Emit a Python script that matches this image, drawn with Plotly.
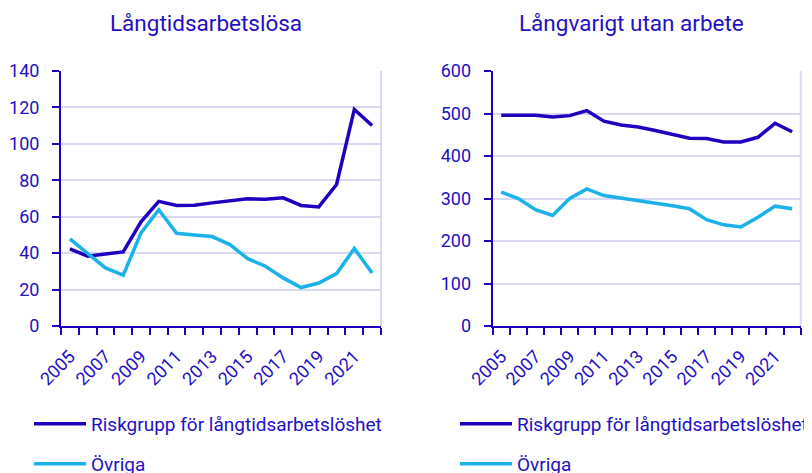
import plotly.graph_objects as go

years = list(range(2005, 2023))
tick_years = [2005, 2007, 2009, 2011, 2013, 2015, 2017, 2019, 2021]
tick_labels = [str(y) for y in tick_years]

left_title = "Långtidsarbetslösa"
right_title = "Långvarigt utan arbete"
series_names = ["Riskgrupp för långtidsarbetslöshet", "Övriga"]

left_risk = [42.3, 38.3, 39.5, 40.7, 57.2, 68.4, 66.2, 66.3, 67.6, 68.5, 69.8, 69.6, 70.4, 66.2, 65.4, 77.7, 118.9, 110.1]
left_other = [47.8, 40.1, 31.9, 27.9, 51.1, 63.8, 50.9, 50.0, 49.1, 44.7, 37.0, 32.8, 26.4, 21.1, 23.6, 28.8, 42.5, 29.1]

right_risk = [496, 495.5, 496, 492, 495, 507, 482, 473, 468, 460, 451, 442, 441, 433, 433, 444, 477, 457]
right_other = [315, 300, 273.5, 260, 300, 322.5, 307, 301.5, 294, 289, 283, 276, 250, 238, 233, 256, 282, 276]

DARK = "#1E00BE"
LIGHT = "#1AB2E8"
TEXT = "#2310C4"
GRID = "#D8D8F2"
FONT = "Roboto"

fig = go.Figure()

W, H = 812, 473
OFF = 8  # page body margin offset
def px(x):
    return (x - OFF) / W
def py(y):
    return 1 - (y - OFF) / H

fig.add_trace(go.Scatter(x=years, y=left_risk, mode="lines", name=series_names[0],
                         line=dict(color=DARK, width=3.5), xaxis="x", yaxis="y", legend="legend"))
fig.add_trace(go.Scatter(x=years, y=left_other, mode="lines", name=series_names[1],
                         line=dict(color=LIGHT, width=3.5), xaxis="x", yaxis="y", legend="legend2"))
fig.add_trace(go.Scatter(x=years, y=right_risk, mode="lines", name=series_names[0],
                         line=dict(color=DARK, width=3.5), xaxis="x2", yaxis="y2", legend="legend3"))
fig.add_trace(go.Scatter(x=years, y=right_other, mode="lines", name=series_names[1],
                         line=dict(color=LIGHT, width=3.5), xaxis="x2", yaxis="y2", legend="legend4"))

ydom = [py(326), py(71)]

def xaxis(dom, anchor):
    return dict(domain=dom, anchor=anchor, range=[2004.5, 2022.5], automargin=False,
                tickmode="array", tickvals=tick_years, ticktext=tick_labels,
                tickangle=-45, ticks="outside", ticklen=7, tickcolor="rgba(0,0,0,0)",
                ticklabelstandoff=4,
                minor=dict(tick0=2004.5, dtick=1, ticks="outside", ticklen=7,
                           tickcolor=DARK, tickwidth=2, showgrid=False),
                showline=True, linecolor=DARK, linewidth=2, showgrid=False, zeroline=False,
                tickfont=dict(family=FONT, size=18, color=TEXT), fixedrange=True)

def yaxis(dom, anchor, rng, dt):
    return dict(domain=dom, anchor=anchor, range=rng, dtick=dt, tick0=0, automargin=False,
                ticks="outside", ticklen=7, tickwidth=2, tickcolor=DARK, ticklabelstandoff=9,
                showline=True, linecolor=DARK, linewidth=2,
                showgrid=True, gridcolor=GRID, gridwidth=2, zeroline=False,
                tickfont=dict(family=FONT, size=18, color=TEXT), fixedrange=True)

def legend(x, y):
    return dict(x=px(x), y=py(y), xanchor="left", yanchor="middle", orientation="v",
                bgcolor="rgba(0,0,0,0)", borderwidth=0, itemwidth=52,
                font=dict(family=FONT, size=19, color=TEXT), itemclick=False, itemdoubleclick=False)

fig.update_layout(
    width=W, height=H,
    margin=dict(l=0, r=0, t=0, b=0, autoexpand=False),
    paper_bgcolor="white", plot_bgcolor="white",
    showlegend=True,
    xaxis=xaxis([px(61), px(381)], "y"),
    yaxis=yaxis(ydom, "x", [0, 140], 20),
    xaxis2=xaxis([px(492.7), px(800.7)], "y2"),
    yaxis2=yaxis(ydom, "x2", [0, 600], 100),
    legend=legend(29, 424),
    legend2=legend(29, 464),
    legend3=legend(455, 424),
    legend4=legend(455, 464),
    shapes=[
        dict(type="line", xref="x domain", yref="y domain", x0=1, x1=1, y0=0, y1=1,
             line=dict(color=GRID, width=2), layer="below"),
        dict(type="line", xref="x2 domain", yref="y2 domain", x0=1, x1=1, y0=0, y1=1,
             line=dict(color=GRID, width=2), layer="below"),
    ],
    annotations=[
        dict(text=left_title, x=px(206), y=py(23), xref="paper", yref="paper",
             xanchor="center", yanchor="middle", showarrow=False,
             font=dict(family=FONT, size=22.5, color=TEXT)),
        dict(text=right_title, x=px(631.5), y=py(23), xref="paper", yref="paper",
             xanchor="center", yanchor="middle", showarrow=False,
             font=dict(family=FONT, size=22.5, color=TEXT)),
    ],
)

fig.write_html("out.html")
